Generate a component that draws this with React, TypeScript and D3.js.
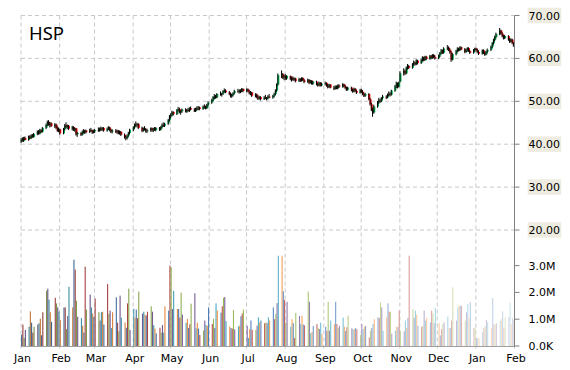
import React from "react";
import * as d3 from "d3";

// ---------- data ----------
const title = "HSP";
const startYear = 2013;
const priceTicks = [20, 30, 40, 50, 60, 70];
const volumeTicks = [0, 1e6, 2e6, 3e6];
const volumeTickLabels = ["0.0K", "1.0M", "2.0M", "3.0M"];
const volumePalette = ["#4F81BD", "#C0504D", "#9BBB59", "#8064A2", "#4BACC6", "#F79646"];

// [open, high, low, close] per trading day
const candlesJan13 = [
  [40.6,41.4,40.3,41.1],[41.1,41.6,40.6,40.8],[40.8,41.7,40.5,41.5],[41.5,41.8,40.9,41.0],[41.0,42.0,40.8,41.8],
  [41.8,42.1,41.2,41.4],[41.4,42.3,41.2,42.1],[42.1,42.4,41.5,41.7],[41.7,42.6,41.5,42.4],[42.4,43.2,42.1,42.9],
  [42.9,43.3,42.2,42.5],[42.5,43.6,42.3,43.3],[43.3,43.5,42.6,42.9],[42.9,44.0,42.7,43.8],[43.8,44.8,43.5,44.5],
  [44.5,45.5,44.2,45.2],[45.2,45.6,44.3,44.6],[44.6,45.2,43.9,44.9],[44.9,45.1,44.0,44.2],[44.2,44.9,43.8,44.6],
  [44.6,44.8,43.5,43.8],[43.8,44.2,42.9,43.1],[43.1,43.9,42.8,43.5]];
const candlesFeb13 = [
  [43.5,43.6,42.2,42.5],[42.5,43.8,42.3,43.5],[43.5,44.7,43.2,44.4],[44.4,45.1,43.8,44.0],[44.0,44.6,43.5,44.3],
  [44.3,44.5,43.3,43.6],[43.6,44.3,43.2,44.0],[44.0,44.2,43.1,43.4],[43.4,43.9,42.9,43.7],[43.7,43.8,42.0,42.3],
  [42.3,42.9,41.7,42.6],[42.6,42.8,41.9,42.2],[42.2,43.2,42.0,42.9],[42.9,43.5,42.5,42.7],[42.7,43.4,42.4,43.2],
  [43.2,43.4,42.5,42.8],[42.8,43.6,42.6,43.3],[43.3,43.8,42.9,43.1],[43.1,43.4,42.4,42.7],[42.7,43.4,42.5,43.0]];
const candlesMar13 = [
  [43.0,43.5,42.6,43.3],[43.3,43.9,42.9,43.1],[43.1,43.9,42.9,43.7],[43.7,44.1,43.1,43.4],[43.4,44.0,43.1,43.8],
  [43.8,44.0,42.9,43.2],[43.2,43.9,42.9,43.6],[43.6,44.2,43.3,43.9],[43.9,44.1,43.0,43.3],[43.3,43.6,42.6,42.9],
  [42.9,43.5,42.5,43.2],[43.2,43.5,42.6,42.8],[42.8,43.4,42.4,43.1],[43.1,43.3,42.3,42.5],[42.5,43.2,42.2,42.9],
  [42.9,43.1,41.9,42.2],[42.2,42.5,41.3,41.6],[41.6,42.0,40.9,41.4],[41.4,42.3,41.1,42.0],[42.0,42.9,41.7,42.6],
  [42.6,43.6,42.3,43.4]];
const candlesApr13 = [
  [43.4,44.2,43.0,43.9],[43.9,44.8,43.6,44.6],[44.6,45.3,44.1,44.4],[44.4,45.0,43.9,44.7],[44.7,44.9,43.5,43.8],
  [43.8,44.1,42.8,43.1],[43.1,43.9,42.9,43.6],[43.6,44.2,43.2,43.4],[43.4,43.8,42.7,43.0],[43.0,43.6,42.6,43.3],
  [43.3,43.9,42.9,43.7],[43.7,43.9,42.9,43.2],[43.2,43.8,42.8,43.5],[43.5,44.0,43.1,43.3],[43.3,44.0,43.0,43.8],
  [43.8,44.0,43.1,43.4],[43.4,44.2,43.2,44.0],[44.0,44.8,43.7,44.5],[44.5,45.1,44.0,44.3],[44.3,45.0,44.0,44.8],
  [44.8,45.9,44.5,45.6],[45.6,46.8,45.3,46.5]];
const candlesMay13 = [
  [46.5,47.2,46.0,46.7],[46.7,47.8,46.5,47.5],[47.5,47.7,46.7,47.0],[47.0,48.2,46.8,48.0],[48.0,48.7,47.6,48.2],
  [48.2,48.5,47.2,47.5],[47.5,47.9,46.9,47.7],[47.7,48.3,47.3,48.1],[48.1,48.4,47.4,47.6],[47.6,48.2,47.3,48.0],
  [48.0,48.5,47.6,47.8],[47.8,48.6,47.5,48.4],[48.4,48.8,47.9,48.1],[48.1,48.4,47.5,47.7],[47.7,48.5,47.5,48.3],
  [48.3,48.8,47.9,48.1],[48.1,48.9,47.9,48.6],[48.6,48.8,47.9,48.2],[48.2,49.0,48.0,48.8],[48.8,49.3,48.3,48.6],
  [48.6,49.0,48.1,48.4],[48.4,49.4,48.2,49.2],[49.2,50.0,48.8,49.7]];
const candlesJun13 = [
  [49.7,50.6,49.4,50.3],[50.3,51.2,50.0,51.0],[51.0,51.7,50.5,51.2],[51.2,51.5,50.6,50.9],[50.9,51.9,50.7,51.7],
  [51.7,52.3,51.3,51.6],[51.6,52.0,51.1,51.8],[51.8,52.6,51.5,52.4],[52.4,53.0,52.0,52.5],[52.5,52.8,51.9,52.1],
  [52.1,52.4,51.4,51.7],[51.7,52.0,50.9,51.2],[51.2,51.8,50.8,51.5],[51.5,52.1,51.1,51.9],[51.9,52.7,51.6,52.4],
  [52.4,52.9,52.0,52.2],[52.2,52.8,51.8,52.6],[52.6,52.8,51.9,52.3],[52.3,53.1,52.1,52.9],[52.9,53.0,52.1,52.4]];
const candlesJul13 = [
  [52.4,53.0,52.1,52.8],[52.8,53.0,52.1,52.3],[52.3,52.6,51.6,51.9],[51.9,52.4,51.4,52.1],[52.1,52.2,51.0,51.3],
  [51.3,51.9,50.9,51.6],[51.6,51.8,50.7,51.0],[51.0,51.4,50.3,50.6],[50.6,51.3,50.4,51.0],[51.0,51.2,50.2,50.5],
  [50.5,51.2,50.3,50.9],[50.9,51.5,50.5,50.7],[50.7,51.0,50.2,50.8],[50.8,51.4,50.4,51.1],[51.1,51.7,50.7,50.9],
  [50.9,51.5,50.6,51.3],[51.3,52.0,50.9,51.7],[51.7,52.8,51.4,52.5],[52.5,54.2,52.2,53.9],[53.9,56.5,53.6,56.1],
  [56.1,57.2,55.4,56.3],[56.3,56.6,55.2,55.5],[55.5,56.2,54.9,55.8]];
const candlesAug13 = [
  [55.8,56.3,55.0,55.3],[55.3,56.1,55.0,55.9],[55.9,56.0,54.9,55.2],[55.2,55.7,54.6,55.4],[55.4,55.8,54.8,55.0],
  [55.0,55.6,54.7,55.3],[55.3,55.5,54.4,54.7],[54.7,55.5,54.5,55.2],[55.2,55.4,54.5,54.8],[54.8,55.6,54.6,55.4],
  [55.4,55.6,54.7,54.9],[54.9,55.2,54.2,54.5],[54.5,55.3,54.3,55.0],[55.0,55.2,54.0,54.3],[54.3,55.0,54.1,54.8],
  [54.8,54.9,53.9,54.1],[54.1,54.8,53.8,54.6],[54.6,54.8,53.7,54.0],[54.0,54.3,53.4,53.7],[53.7,54.6,53.5,54.3],
  [54.3,54.5,53.4,53.7],[53.7,54.4,53.5,54.1]];
const candlesSep13 = [
  [54.1,54.6,53.7,54.3],[54.3,54.4,53.4,53.6],[53.6,54.0,53.0,53.3],[53.3,54.1,53.1,53.9],[53.9,54.0,53.0,53.2],
  [53.2,53.6,52.6,52.9],[52.9,53.7,52.7,53.5],[53.5,53.7,52.8,53.0],[53.0,53.9,52.8,53.7],[53.7,54.0,53.1,53.4],
  [53.4,54.2,53.2,54.0],[54.0,54.1,53.2,53.5],[53.5,53.8,52.8,53.1],[53.1,53.4,52.4,52.7],[52.7,53.4,52.5,53.2],
  [53.2,53.4,52.3,52.6],[52.6,52.9,52.0,52.3],[52.3,53.2,52.1,52.9],[52.9,53.1,52.1,52.4],[52.4,52.7,51.7,52.0],
  [52.0,52.9,51.8,52.6]];
const candlesOct13 = [
  [52.6,52.9,51.9,52.2],[52.2,52.6,51.4,51.7],[51.7,52.0,51.0,51.3],[51.3,52.0,51.0,51.7],[51.7,51.9,50.2,50.5],
  [50.5,50.8,49.0,49.3],[49.3,49.7,47.7,48.0],[48.0,48.5,46.4,47.4],[47.4,49.2,47.1,48.8],[48.8,50.1,48.5,49.9],
  [49.9,50.8,49.4,50.2],[50.2,50.6,49.6,50.0],[50.0,51.0,49.8,50.8],[50.8,51.5,50.4,51.1],[51.1,51.4,50.5,50.9],
  [50.9,51.8,50.7,51.6],[51.6,52.3,51.2,51.8],[51.8,52.1,51.1,51.5],[51.5,52.7,51.3,52.5],[52.5,53.8,52.2,53.5],
  [53.5,54.6,53.1,54.2],[54.2,54.4,53.0,53.4],[53.4,54.6,53.2,54.4]];
const candlesNov13 = [
  [54.6,57.0,54.4,56.5],[56.5,57.7,56.0,57.1],[57.1,57.4,56.1,56.5],[56.5,58.1,56.3,57.9],[57.9,58.7,57.4,58.2],
  [58.2,58.5,57.5,57.8],[57.8,58.9,57.6,58.7],[58.7,59.5,58.3,59.0],[59.0,59.3,58.3,58.6],[58.6,59.8,58.4,59.5],
  [59.5,59.7,58.6,58.9],[58.9,59.9,58.7,59.7],[59.7,60.5,59.3,60.2],[60.2,60.4,59.3,59.6],[59.6,60.6,59.4,60.4],
  [60.4,60.6,59.6,59.9],[59.9,60.8,59.7,60.6],[60.6,60.8,59.8,60.1],[60.1,61.0,59.9,60.8],[60.8,61.0,60.0,60.3],
  [60.3,60.7,59.7,60.0]];
const candlesDec13 = [
  [60.0,60.9,59.8,60.7],[60.7,61.5,60.3,61.3],[61.3,62.2,61.0,61.9],[61.9,62.1,61.0,61.3],[61.3,62.6,61.1,62.3],
  [62.3,63.1,61.9,62.5],[62.5,62.8,61.7,62.0],[62.0,62.3,61.1,61.4],[61.4,61.7,59.2,59.7],[59.7,61.2,59.5,61.0],
  [61.0,62.0,60.7,61.8],[61.8,62.6,61.4,62.2],[62.2,62.5,61.6,61.9],[61.9,62.8,61.7,62.6],[62.6,62.8,61.9,62.1],
  [62.1,62.4,61.2,61.5],[61.5,62.3,61.3,62.0],[62.0,62.6,61.6,62.4],[62.4,62.6,61.5,61.7],[61.7,62.0,61.0,61.3],
  [61.3,62.2,61.1,62.0],[62.0,62.5,61.6,62.3]];
const candlesJan14 = [
  [62.3,62.5,61.6,61.9],[61.9,62.3,61.2,61.5],[61.5,61.9,60.8,61.1],[61.1,62.1,60.9,61.9],[61.9,62.1,61.0,61.3],
  [61.3,61.6,60.6,60.9],[60.9,61.8,60.7,61.6],[61.6,62.3,61.2,62.0],[62.0,63.0,61.7,62.7],[62.7,63.8,62.4,63.5],
  [63.5,64.6,63.2,64.3],[64.3,65.3,64.0,65.0],[65.0,66.0,64.7,65.7],[65.7,67.1,65.4,66.5],[66.5,66.7,65.5,65.8],
  [65.8,66.1,64.9,65.2],[65.2,65.5,64.4,64.7],[64.7,65.5,64.5,65.2],[65.2,65.4,64.1,64.4],[64.4,64.7,63.6,63.9],
  [63.9,64.7,63.7,64.4],[64.4,64.6,63.3,63.6],[63.6,63.8,62.7,63.1]];

// volume per trading day, millions
const volumesJan13 = [0.42,0.8,0.3,0.6,0.72,1.29,0.87,0.5,0.72,0.8,0.85,1.02,0.4,1.26,2.06,2.14,1.73,1.26,0.9,1.8,1.59,1.44,1.28];
const volumesFeb13 = [0.97,1.44,1.44,0.63,1.12,2.21,1.44,3.22,2.85,1.69,1.09,1.04,0.76,0.5,2.96,1.36,1.92,1.44,1.21,1.09];
const volumesMar13 = [1.77,1.26,0.95,1.26,1.28,0.8,2.31,1.2,1.32,0.67,1.26,1.82,0.87,0.55,1.88,1.06,0.88,0.68,1.59,2.14,0.6];
const volumesApr13 = [1.39,1.06,1.36,1.04,2.03,1.21,1.28,1.17,1.14,1.28,1.48,1.28,0.78,0.65,0.47,0.68,0.5,0.78,0.5,1.48,1.32,3.0];
const volumesMay13 = [2.94,1.38,2.06,1.38,1.38,1.06,1.99,1.17,0.87,1.01,0.67,0.81,1.58,1.97,0.66,0.87,0.65,0.41,0.58,0.95,0.78,0.75,1.44];
const volumesJun13 = [0.82,1.02,0.67,1.59,1.32,1.24,1.48,1.8,1.83,0.93,0.73,0.67,0.65,1.34,0.62,0.73,0.76,1.11,1.21,1.36];
const volumesJul13 = [0.75,0.3,0.63,0.95,0.6,0.6,0.76,1.07,0.88,0.95,0.85,0.88,0.85,1.07,0.95,1.44,1.0,1.2,1.6,3.37,3.37,2.04,1.72];
const volumesAug13 = [0.87,1.65,0.72,1.0,0.85,0.3,1.24,1.12,0.82,1.13,0.8,0.77,2.03,1.65,0.47,0.52,0.75,0.82,0.67,0.63,0.87,0.45];
const volumesSep13 = [0.72,0.57,1.65,0.57,0.95,0.82,1.65,0.82,0.67,0.75,1.06,0.72,0.56,0.7,1.13,0.66,0.62,0.62,0.67,0.63,0.41];
const volumesOct13 = [0.82,0.63,0.72,0.75,0.32,0.57,0.67,0.82,1.0,1.07,1.04,1.62,1.44,0.57,1.07,1.59,1.28,1.28,0.46,0.57,0.72,0.7,1.32];
const volumesNov13 = [0.57,0.55,0.95,0.67,1.05,3.37,1.37,1.05,1.32,1.17,0.76,0.72,0.75,1.32,0.95,1.05,0.88,1.32,1.22,0.85,1.42];
const volumesDec13 = [0.85,0.39,0.63,0.82,0.88,1.1,0.67,0.67,0.95,2.19,0.95,1.44,1.5,1.5,1.5,0.95,1.26,1.57,1.04,1.63,0.67,0.7];
const volumesJan14 = [0.3,0.28,0.3,0.51,0.67,0.75,0.97,0.89,0.67,1.79,0.82,0.8,0.85,0.95,1.01,1.29,0.67,1.07,1.09,1.62,0.82,1.04,0.95];

const monthCandles = [candlesJan13, candlesFeb13, candlesMar13, candlesApr13, candlesMay13, candlesJun13,
  candlesJul13, candlesAug13, candlesSep13, candlesOct13, candlesNov13, candlesDec13, candlesJan14];
const monthVolumes = [volumesJan13, volumesFeb13, volumesMar13, volumesApr13, volumesMay13, volumesJun13,
  volumesJul13, volumesAug13, volumesSep13, volumesOct13, volumesNov13, volumesDec13, volumesJan14];

type Row = { date: Date; o: number; h: number; l: number; c: number; v: number };

function buildRows(): Row[] {
  const rows: Row[] = [];
  monthCandles.forEach((cs, m) => {
    const start = new Date(startYear, m, 1);
    const days = d3.timeDay
      .range(start, d3.timeMonth.offset(start, 1))
      .filter((d) => d.getDay() !== 0 && d.getDay() !== 6);
    const vs = monthVolumes[m];
    const n = Math.min(days.length, cs.length);
    for (let i = 0; i < n; i++) {
      const [o, h, l, c] = cs[i];
      rows.push({ date: days[i], o, h, l, c, v: (vs[i] ?? 0) * 1e6 });
    }
  });
  return rows;
}

function barColor(i: number, n: number) {
  const base = d3.rgb(volumePalette[i % volumePalette.length]);
  const t = i / (n - 1);
  const mid = 0.45;
  if (t < mid) return d3.interpolateRgb(base.darker(0.75), base)(t / mid);
  return d3.interpolateRgb(base, "#ffffff")(((t - mid) / (1 - mid)) * 0.72);
}

export default function App() {
  const W = 570, H = 370;
  const left = 21, right = 514.5;
  const rows = buildRows();

  const x = d3.scaleTime()
    .domain([new Date(startYear, 0, 1), new Date(startYear + 1, 1, 1)])
    .range([left, right]);
  const yP = d3.scaleLinear().domain([20, 70]).range([230, 15.5]);
  const yV = d3.scaleLinear().domain([0, 3e6]).range([346, 265.6]);
  const months = d3.timeMonth.range(new Date(startYear, 0, 1), new Date(startYear + 1, 1, 2));
  const fmtMonth = d3.timeFormat("%b");
  const cx = (d: Date) => x(d3.timeHour.offset(d, 12));
  const grid = "#C8C8C8";
  const font = "DejaVu Sans, Verdana, sans-serif";

  return (
    <svg width={W} height={H} style={{ position: "absolute", left: 0, top: 0, background: "#fff" }}>
      {priceTicks.map((p) => (
        <line key={"hg" + p} x1={left} x2={right} y1={yP(p)} y2={yP(p)}
          stroke={grid} strokeDasharray="4,3" strokeWidth={1} />
      ))}
      {months.map((m, i) => (
        <line key={"vg" + i} x1={x(m)} x2={x(m)} y1={yP(70)} y2={yV(0) + 3}
          stroke={grid} strokeDasharray="4,3" strokeWidth={1} />
      ))}
      <line x1={left} x2={right} y1={yV(0) + 0.5} y2={yV(0) + 0.5} stroke="#A0A0A0" strokeWidth={1} />
      {rows.map((r, i) => (
        <rect key={"v" + i} x={cx(r.date) - 0.55} width={1.1} y={yV(r.v)} height={yV(0) - yV(r.v)}
          fill={barColor(i, rows.length)} />
      ))}
      {rows.map((r, i) => {
        const c = cx(r.date);
        const top = yP(Math.max(r.o, r.c));
        const bot = yP(Math.min(r.o, r.c));
        const up = r.c >= r.o;
        return (
          <g key={"c" + i}>
            <rect x={c - 1} width={2} y={top} height={Math.max(1, bot - top)} fill={up ? "#00B050" : "#FF0000"} />
            <line x1={c - 0.5} x2={c - 0.5} y1={yP(r.h)} y2={yP(r.l)} stroke="#000" strokeWidth={1} />
          </g>
        );
      })}
      <line x1={right} x2={right} y1={yP(70)} y2={yV(0) + 1} stroke="#808080" strokeWidth={1} />
      {priceTicks.map((p) => (
        <g key={"pt" + p}>
          <line x1={right} x2={right + 5} y1={yP(p)} y2={yP(p)} stroke="#808080" />
          <rect x={527.7} y={yP(p) - 7.8} width={33.5} height={15.5} fill="#EEECE1" />
          <text x={528.5} y={yP(p) + 4} fontFamily={font} fontSize={11} fill="#000">{p.toFixed(2)}</text>
        </g>
      ))}
      {volumeTicks.map((v, i) => (
        <g key={"vt" + v}>
          <line x1={right} x2={right + 5} y1={yV(v)} y2={yV(v)} stroke="#808080" />
          <text x={528.5} y={yV(v) + 4} fontFamily={font} fontSize={11} fill="#000">{volumeTickLabels[i]}</text>
        </g>
      ))}
      {months.map((m, i) => (
        <text key={"ml" + i} x={x(m) + 1.5} y={362} textAnchor="middle" fontFamily={font} fontSize={11} fill="#000">
          {fmtMonth(m)}
        </text>
      ))}
      <text x={29} y={39.5} fontFamily="Noto Sans, Open Sans, sans-serif" fontSize={18.5} fill="#000">{title}</text>
    </svg>
  );
}
